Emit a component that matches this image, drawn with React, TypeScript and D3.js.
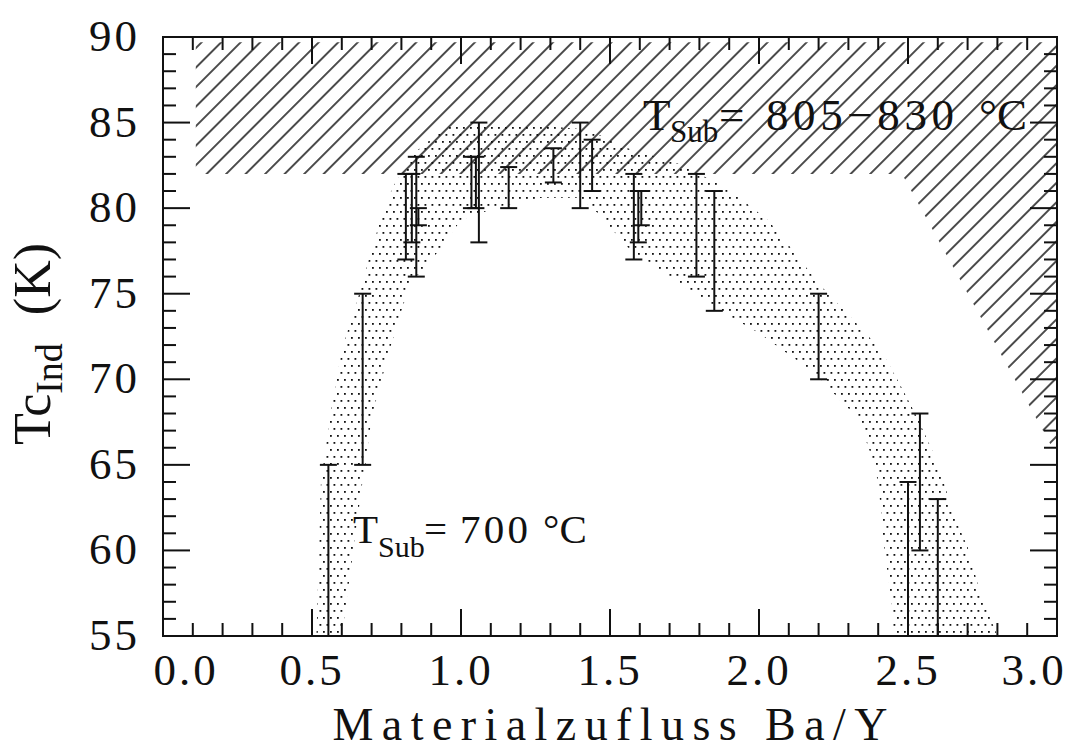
import React from "react";
import * as d3 from "d3";

// axis ticks
const xTicks = [0, 0.5, 1.0, 1.5, 2.0, 2.5, 3.0];
const xTickLabels = ["0.0", "0.5", "1.0", "1.5", "2.0", "2.5", "3.0"];
const yTicks = [55, 60, 65, 70, 75, 80, 85, 90];
const yTickLabels = ["55", "60", "65", "70", "75", "80", "85", "90"];

// error bars: Ba/Y flux, Tc range (low, high)
const barX = [0.555, 0.67, 0.815, 0.835, 0.85, 0.857, 1.035, 1.05, 1.06, 1.16, 1.31, 1.4, 1.44, 1.58, 1.595, 1.605, 1.79, 1.85, 2.2, 2.5, 2.54, 2.6];
const barLow = [54, 65, 77, 78, 76, 79, 80, 80, 78, 80, 81.5, 80, 81, 77, 78, 79, 76, 74, 70, 54, 60, 54];
const barHigh = [65, 75, 82, 82, 83, 80, 83, 83, 85, 82.4, 83.5, 85, 84, 82, 81, 81, 82, 81, 75, 64, 68, 63];

// dotted band (T_Sub = 700 C), outer edge then inner edge
const bandOuterX = [0.515, 0.53, 0.56, 0.6, 0.64, 0.67, 0.69, 0.73, 0.77, 0.84, 0.97, 1.27, 1.43, 1.54, 1.73, 1.89, 2.03, 2.12, 2.2, 2.31, 2.41, 2.47, 2.53, 2.58, 2.62, 2.65, 2.7, 2.73, 2.77, 2.8];
const bandOuterY = [55, 64, 67.8, 71.7, 74, 75.6, 77, 79.3, 81.2, 83.2, 85, 84.8, 84.6, 83.6, 82.6, 81.2, 79.3, 77.4, 75.6, 73.6, 71.7, 69.8, 67.8, 65.9, 64, 62.2, 60.2, 58.3, 56.3, 55];
const bandInnerX = [2.45, 2.45, 2.42, 2.4, 2.37, 2.33, 2.27, 2.22, 2.16, 2.08, 2.0, 1.91, 1.82, 1.73, 1.66, 1.6, 1.56, 1.5, 1.46, 1.4, 1.27, 1.13, 1.0, 0.92, 0.83, 0.8, 0.76, 0.7, 0.68, 0.67, 0.6];
const bandInnerY = [55, 56.3, 60.2, 64, 65.9, 67.8, 68.8, 69.8, 70.7, 71.7, 72.7, 73.6, 74.6, 75.6, 76.5, 77.2, 77.7, 78.9, 79.7, 80.6, 80.6, 80.1, 79.3, 77.4, 75.6, 74, 71.7, 67.8, 65.1, 64.1, 55];

// hatched region (T_Sub = 805-830 C)
const hatchX = [0.11, 3.0, 3.0, 2.48, 0.11];
const hatchY = [89.7, 89.7, 65.5, 82, 82];

const W = 1068;
const H = 751;
const font = "'Liberation Serif', serif";

export default function App() {
  const x = d3.scaleLinear().domain([0, 3]).range([163, 1057]);
  const y = d3.scaleLinear().domain([55, 90]).range([636, 37]);
  const [x0, x1] = x.range();
  const [y0, y1] = y.range();

  const line = d3
    .line<[number, number]>()
    .x((d) => x(d[0]))
    .y((d) => y(d[1]));

  const bandPts: [number, number][] = [
    ...bandOuterX.map((v, i) => [v, bandOuterY[i]] as [number, number]),
    ...bandInnerX.map((v, i) => [v, bandInnerY[i]] as [number, number]),
  ];
  const hatchPts: [number, number][] = hatchX.map((v, i) => [v, hatchY[i]]);

  const xMinor = d3.range(0, 30.01, 1).map((d) => d / 10);
  const yMinor = d3.range(55, 90.01, 1);
  const isMajorX = (v: number) => Math.abs(v * 2 - Math.round(v * 2)) < 1e-6;
  const isMajorY = (v: number) => v % 5 === 0;
  const major = 27;
  const minor = 13;
  const capW = 8.5;

  return (
    <svg width={W} height={H} style={{ position: "absolute", left: 0, top: 0, background: "#fff" }}>
      <defs>
        <clipPath id="plot">
          <rect x={x0} y={y1} width={x1 - x0} height={y0 - y1} />
        </clipPath>
        <pattern id="dots" patternUnits="userSpaceOnUse" width={7} height={14}>
          <rect x={1} y={1} width={1.8} height={1.8} fill="#111" />
          <rect x={4.5} y={8} width={1.8} height={1.8} fill="#111" />
        </pattern>
        <pattern id="hatch" patternUnits="userSpaceOnUse" width={13.8} height={13.8} patternTransform="rotate(45)">
          <line x1={6.9} y1={0} x2={6.9} y2={13.8} stroke="#111" strokeWidth={1.5} />
        </pattern>
      </defs>

      <g clipPath="url(#plot)">
        <path d={line(bandPts) + "Z"} fill="url(#dots)" stroke="none" />
        <path d={line(hatchPts) + "Z"} fill="url(#hatch)" stroke="none" />
        {barX.map((bx, i) => (
          <g key={i} stroke="#111" strokeWidth={2}>
            <line x1={x(bx)} x2={x(bx)} y1={y(barLow[i])} y2={y(barHigh[i])} />
            <line x1={x(bx) - capW} x2={x(bx) + capW} y1={y(barLow[i])} y2={y(barLow[i])} />
            <line x1={x(bx) - capW} x2={x(bx) + capW} y1={y(barHigh[i])} y2={y(barHigh[i])} />
          </g>
        ))}
      </g>

      {/* frame and ticks on all four sides */}
      <g stroke="#111" strokeWidth={2} fill="none">
        <rect x={x0} y={y1} width={x1 - x0} height={y0 - y1} />
        {xMinor.map((v, i) => {
          const len = isMajorX(v) ? major : minor;
          return (
            <g key={"x" + i}>
              <line x1={x(v)} x2={x(v)} y1={y0} y2={y0 - len} />
              <line x1={x(v)} x2={x(v)} y1={y1} y2={y1 + len} />
            </g>
          );
        })}
        {yMinor.map((v, i) => {
          const len = isMajorY(v) ? major : minor;
          return (
            <g key={"y" + i}>
              <line x1={x0} x2={x0 + len} y1={y(v)} y2={y(v)} />
              <line x1={x1} x2={x1 - len} y1={y(v)} y2={y(v)} />
            </g>
          );
        })}
      </g>

      <g fontFamily={font} fontSize={45} fill="#111">
        {xTicks.map((v, i) => (
          <text
            key={"xl" + i}
            x={x(v) + (i === 0 ? 23 : i === xTicks.length - 1 ? -23 : 0)}
            y={685}
            textAnchor="middle"
            letterSpacing={3}
          >
            {xTickLabels[i]}
          </text>
        ))}
        {yTicks.map((v, i) => (
          <text key={"yl" + i} x={140} y={y(v) + 14} textAnchor="end" letterSpacing={3}>
            {yTickLabels[i]}
          </text>
        ))}
      </g>

      {/* axis titles */}
      <text x={(x0 + x1) / 2} y={740} textAnchor="middle" fontFamily={font} fontSize={46} fill="#111" textLength={555} lengthAdjust="spacing">
        Materialzufluss Ba/Y
      </text>
      <text transform={`translate(50, 445) rotate(-90)`} fontFamily={font} fontSize={52} fill="#111">
        <tspan>Tc</tspan>
        <tspan dy={12} fontSize={38}>Ind</tspan>
        <tspan dy={-12} dx={28}>(K)</tspan>
      </text>

      {/* annotations */}
      <text fontFamily={font} fill="#111" fontSize={45}>
        <tspan x={643} y={130}>T</tspan>
        <tspan x={670} y={142} fontSize={31}>Sub</tspan>
        <tspan x={719} y={130}>=</tspan>
        <tspan x={766} y={130} textLength={188} lengthAdjust="spacing">805−830</tspan>
        <tspan x={979} y={130}>°C</tspan>
      </text>
      <text fontFamily={font} fill="#111" fontSize={41}>
        <tspan x={353} y={543}>T</tspan>
        <tspan x={378} y={557} fontSize={30}>Sub</tspan>
        <tspan x={424} y={543}>=</tspan>
        <tspan x={460} y={543} textLength={68} lengthAdjust="spacing">700</tspan>
        <tspan x={543} y={543}>°C</tspan>
      </text>
    </svg>
  );
}
